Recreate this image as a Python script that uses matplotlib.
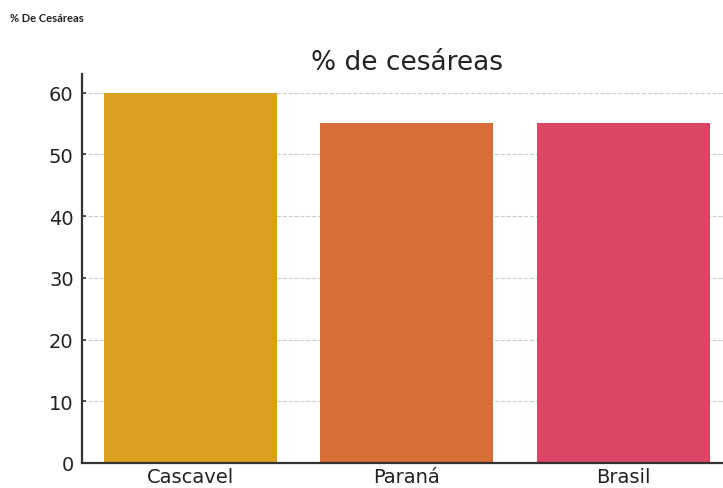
import matplotlib.pyplot as plt

# Data
regions = ["Cascavel", "Paraná", "Brasil"]
cesarean_pct = [60, 55, 55]
bar_colors = ["#DCA020", "#D76E37", "#DB4664"]

fig = plt.figure(figsize=(7.23, 4.89), dpi=100)
ax = fig.add_axes([82 / 723, 25 / 489, 649.5 / 723, 389 / 489])

ax.bar(regions, cesarean_pct, color=bar_colors, width=0.8, zorder=2)
ax.set_xlim(-0.5, 2.5)
ax.set_ylim(0, 63)
ax.set_yticks([0, 10, 20, 30, 40, 50, 60])

ax.grid(axis="y", linestyle="--", color="#cccccc", linewidth=0.8, zorder=0)
ax.set_axisbelow(True)

for side in ["top", "right"]:
    ax.spines[side].set_visible(False)
for side in ["left", "bottom"]:
    ax.spines[side].set_color("#333333")
    ax.spines[side].set_linewidth(1.6)

ax.tick_params(axis="both", labelsize=14, color="#333333", width=1.2, length=3,
               direction="in", labelcolor="#222222", pad=6, zorder=3)
ax.tick_params(axis="x", pad=3)

fig.text(407 / 723, 1 - 63 / 489, "% de cesáreas", ha="center", va="center",
         fontsize=19, color="#222222")
fig.text(10 / 723, 1 - 18 / 489, "% De Cesáreas", ha="left", va="center",
         fontsize=8, fontweight="bold", family="Lato", color="#222222")

fig.savefig("out.png", dpi=100)
